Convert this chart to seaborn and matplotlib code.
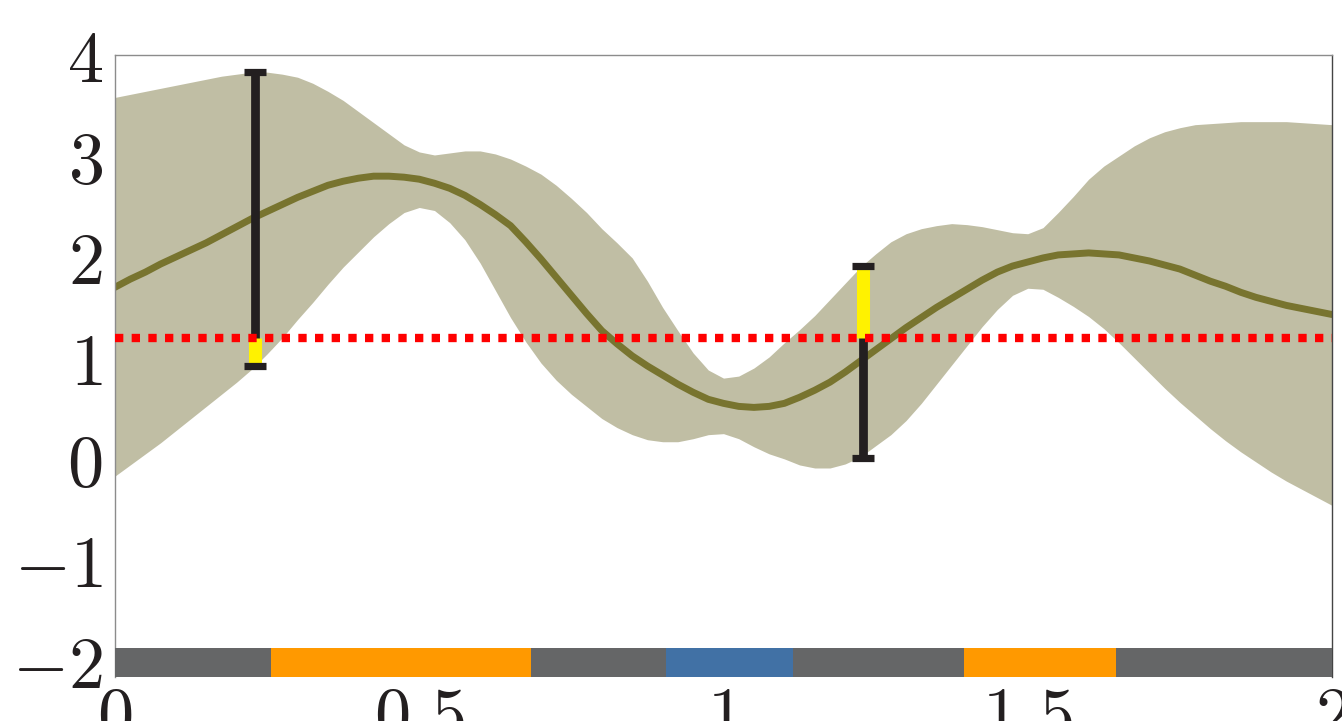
import numpy as np
import pandas as pd
import seaborn as sns
import matplotlib.pyplot as plt

# posterior mean and band on a 0.025 grid
x_grid = [0.000, 0.025, 0.050, 0.075, 0.100, 0.125, 0.150, 0.175, 0.200, 0.225,
          0.250, 0.275, 0.300, 0.325, 0.350, 0.375, 0.400, 0.425, 0.450, 0.475,
          0.500, 0.525, 0.550, 0.575, 0.600, 0.625, 0.650, 0.675, 0.700, 0.725,
          0.750, 0.775, 0.800, 0.825, 0.850, 0.875, 0.900, 0.925, 0.950, 0.975,
          1.000, 1.025, 1.050, 1.075, 1.100, 1.125, 1.150, 1.175, 1.200, 1.225,
          1.250, 1.275, 1.300, 1.325, 1.350, 1.375, 1.400, 1.425, 1.450, 1.475,
          1.500, 1.525, 1.550, 1.575, 1.600, 1.625, 1.650, 1.675, 1.700, 1.725,
          1.750, 1.775, 1.800, 1.825, 1.850, 1.875, 1.900, 1.925, 1.950, 1.975,
          2.000]
mean = [1.70, 1.78, 1.85, 1.93, 2.00, 2.07, 2.14, 2.22, 2.30, 2.38,
        2.45, 2.52, 2.59, 2.65, 2.71, 2.75, 2.78, 2.80, 2.80, 2.79,
        2.77, 2.73, 2.68, 2.61, 2.52, 2.42, 2.31, 2.15, 1.98, 1.80,
        1.62, 1.44, 1.27, 1.14, 1.02, 0.92, 0.83, 0.74, 0.66, 0.59,
        0.55, 0.52, 0.51, 0.52, 0.55, 0.61, 0.68, 0.76, 0.86, 0.97,
        1.08, 1.19, 1.30, 1.40, 1.50, 1.59, 1.68, 1.77, 1.85, 1.91,
        1.95, 1.99, 2.02, 2.03, 2.04, 2.03, 2.02, 1.99, 1.96, 1.92,
        1.88, 1.82, 1.76, 1.71, 1.65, 1.60, 1.56, 1.52, 1.49, 1.46,
        1.43]
upper = [3.58, 3.61, 3.64, 3.67, 3.70, 3.73, 3.76, 3.79, 3.81, 3.83,
         3.83, 3.81, 3.78, 3.72, 3.64, 3.55, 3.44, 3.33, 3.22, 3.11,
         3.04, 3.01, 3.03, 3.05, 3.05, 3.02, 2.97, 2.90, 2.82, 2.71,
         2.58, 2.44, 2.28, 2.14, 1.99, 1.76, 1.50, 1.27, 1.05, 0.88,
         0.80, 0.82, 0.90, 1.01, 1.15, 1.28, 1.42, 1.58, 1.74, 1.90,
         2.03, 2.15, 2.23, 2.28, 2.31, 2.33, 2.32, 2.30, 2.27, 2.24,
         2.23, 2.29, 2.44, 2.60, 2.77, 2.90, 3.00, 3.10, 3.18, 3.24,
         3.28, 3.31, 3.32, 3.33, 3.34, 3.34, 3.34, 3.34, 3.33, 3.32,
         3.31]
lower = [-0.17, -0.06, 0.05, 0.16, 0.28, 0.40, 0.52, 0.64, 0.76, 0.89,
         1.04, 1.20, 1.38, 1.55, 1.73, 1.90, 2.05, 2.20, 2.33, 2.44,
         2.49, 2.46, 2.34, 2.17, 1.94, 1.67, 1.40, 1.16, 0.95, 0.78,
         0.64, 0.52, 0.40, 0.31, 0.24, 0.19, 0.17, 0.17, 0.20, 0.24,
         0.25, 0.20, 0.12, 0.05, 0.00, -0.06, -0.09, -0.09, -0.05, 0.02,
         0.13, 0.24, 0.38, 0.55, 0.74, 0.93, 1.12, 1.31, 1.48, 1.62,
         1.69, 1.68, 1.60, 1.51, 1.41, 1.29, 1.15, 1.00, 0.85, 0.70,
         0.56, 0.43, 0.30, 0.18, 0.07, -0.03, -0.13, -0.22, -0.30, -0.38,
         -0.46]

threshold = 1.2

# the two interval bars
err_x = [0.23, 1.23]
err_low = [0.92, 0.01]
err_high = [3.83, 1.91]
hit_low = [0.92, 1.2]
hit_high = [1.2, 1.91]

# strip along the bottom
strip_start = [0.0, 0.257, 0.683, 0.905, 1.115, 1.395, 1.645]
strip_end = [0.257, 0.683, 0.905, 1.115, 1.395, 1.645, 2.0]
strip_col = ["#656667", "#ff9900", "#656667", "#4171a5", "#656667", "#ff9900", "#656667"]

xticks = [0, 0.5, 1, 1.5, 2]
xtick_labels = ["$0$", "$0.5$", "$1$", "$1.5$", "$2$"]
yticks = [-2, -1, 0, 1, 2, 3, 4]
ytick_labels = ["$-2$", "$-1$", "$0$", "$1$", "$2$", "$3$", "$4$"]

sns.set_theme(style="white")
plt.rcParams["mathtext.fontset"] = "cm"

df = pd.DataFrame({"x": x_grid, "mean": mean, "upper": upper, "lower": lower})

fig = plt.figure(figsize=(13.42, 7.21), dpi=100)
ax = fig.add_axes([115 / 1342, 44 / 721, 1217 / 1342, 622 / 721])

ax.fill_between(df["x"], df["lower"], df["upper"], color="#c0bea4", lw=0, zorder=1)
sns.lineplot(data=df, x="x", y="mean", color="#78742f", lw=5, ax=ax, zorder=2)

ax.vlines(err_x, err_low, err_high, color="#231f20", lw=6.3, zorder=3)
ax.vlines(err_x, hit_low, hit_high, color="#fff200", lw=9.4, zorder=4)
ax.plot(err_x, err_high, ls="none", marker="_", ms=16, mew=5.2, color="#231f20", zorder=5)
ax.plot(err_x, err_low, ls="none", marker="_", ms=16, mew=5.2, color="#231f20", zorder=5)

ax.axhline(threshold, color="#ff0000", lw=6, ls=(0, (1, 1)), zorder=6)

widths = [e - s for s, e in zip(strip_start, strip_end)]
ax.barh(-2.015, widths, left=strip_start, height=0.29, color=strip_col,
        align="center", lw=0, zorder=7)

ax.set_xlim(0, 2)
ax.set_ylim(-2.16, 4)
ax.set_xticks(xticks)
ax.set_xticklabels(xtick_labels)
ax.set_yticks(yticks)
ax.set_yticklabels(ytick_labels)
ax.set_xlabel("")
ax.set_ylabel("")
ax.tick_params(axis="both", length=0, labelsize=52, colors="#231f20")
ax.tick_params(axis="y", pad=9)
ax.tick_params(axis="x", pad=5)

for side in ["left", "top"]:
    ax.spines[side].set_color("#8c8c8c")
    ax.spines[side].set_linewidth(1.0)
ax.spines["right"].set_color("#444444")
ax.spines["right"].set_linewidth(1.0)
ax.spines["bottom"].set_visible(False)

plt.savefig("out.png", dpi=100)
